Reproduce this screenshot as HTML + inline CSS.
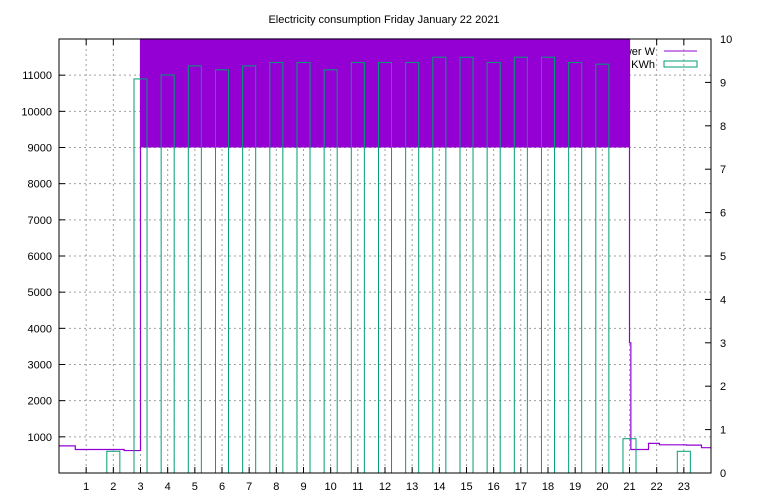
<!DOCTYPE html>
<html><head><meta charset="utf-8"><style>
body{margin:0;background:#fff;}
svg{display:block;font-family:"Liberation Sans",sans-serif;font-size:11px;}
</style></head><body>
<svg id="c" width="768" height="500"></svg>
<script>
const hours=[1,2,3,4,5,6,7,8,9,10,11,12,13,14,15,16,17,18,19,20,21,22,23];
const energyHours=[2,3,4,5,6,7,8,9,10,11,12,13,14,15,16,17,18,19,20,21,23];
const energyKWh=[0.5,9.08,9.17,9.38,9.29,9.38,9.46,9.46,9.29,9.46,9.46,9.46,9.58,9.58,9.46,9.58,9.58,9.46,9.42,0.79,0.5];
const powerT=[0,0.6,2.4,3,21,21.05,21.7,22.1,23.1,23.65,24];
const powerW=[750,650,620,14000,3600,650,820,780,770,700,700];
const yTicks=[1000,2000,3000,4000,5000,6000,7000,8000,9000,10000,11000];
const y2Ticks=[0,1,2,3,4,5,6,7,8,9,10];
const fillBand=[3,21,9000];
const NS="http://www.w3.org/2000/svg";
const svg=document.getElementById('c');
const L=59,R=711,T=39,B=473;
const X=h=>L+(R-L)*h/24;
const Y=w=>B-(B-T)*Math.min(w,12000)/12000;
const Y2=k=>B-(B-T)*k/10;
function mk(t,a,p){const e=document.createElementNS(NS,t);for(const k in a)e.setAttribute(k,a[k]);(p||svg).appendChild(e);return e;}
// grid
for(const h of hours){const g=mk('line',{x1:X(h),x2:X(h),y1:T,y2:B,stroke:'#a0a0a0','stroke-dasharray':'2,3'});


const t=mk('text',{x:X(h),y:490,'text-anchor':'middle'});t.textContent=h;


mk('line',{x1:X(h),x2:X(h),y1:B,y2:B-6,stroke:'#000'});mk('line',{x1:X(h),x2:X(h),y1:T,y2:T+6,stroke:'#000'});}
for(const w of yTicks){const g=mk('line',{x1:L,x2:R,y1:Y(w),y2:Y(w),stroke:'#a0a0a0','stroke-dasharray':'2,3'});


mk('line',{x1:L,x2:L+6,y1:Y(w),y2:Y(w),stroke:'#000'});
const t=mk('text',{x:52,y:Y(w)+4,'text-anchor':'end'});t.textContent=w;

}
for(const k of y2Ticks){mk('line',{x1:R,x2:R-6,y1:Y2(k),y2:Y2(k),stroke:'#000'});
const t=mk('text',{x:720,y:Y2(k)+4});t.textContent=k;

}
// legend text (partially covered by fill)
const lt1=mk('text',{x:655,y:55,'text-anchor':'end'});lt1.textContent='Power W';


const lt2=mk('text',{x:655,y:68,'text-anchor':'end'});lt2.textContent='Energy KWh';


mk('line',{x1:664,x2:697,y1:51,y2:51,stroke:'#9400d3'});
mk('rect',{x:664,y:61,width:33,height:6,fill:'none',stroke:'#009e73'});
// power fill band
const band=mk('rect',{x:X(fillBand[0]),y:T,width:X(fillBand[1])-X(fillBand[0]),height:Y(fillBand[2])-T,fill:'#9400d3'});


// power line
let d='';for(let i=0;i<powerT.length;i++){const x=X(powerT[i]);if(i===0)d='M'+x+','+Y(powerW[i]);else d+=' H'+x+' V'+Y(powerW[i]);}
const pl=mk('path',{d:d,fill:'none',stroke:'#9400d3','stroke-width':1.2});


// energy bars
for(let i=0;i<energyHours.length;i++){const h=energyHours[i];const x0=X(h-0.24),x1=X(h+0.24);
const r=mk('rect',{x:x0,y:Y2(energyKWh[i]),width:x1-x0,height:B-Y2(energyKWh[i]),fill:'none',stroke:'#009e73','stroke-width':1});

}
// frame
mk('rect',{x:L,y:T,width:R-L,height:B-T,fill:'none',stroke:'#000'});
const ti=mk('text',{x:384,y:23,'text-anchor':'middle'});ti.textContent='Electricity consumption Friday January 22 2021';


</script>
</body></html>
